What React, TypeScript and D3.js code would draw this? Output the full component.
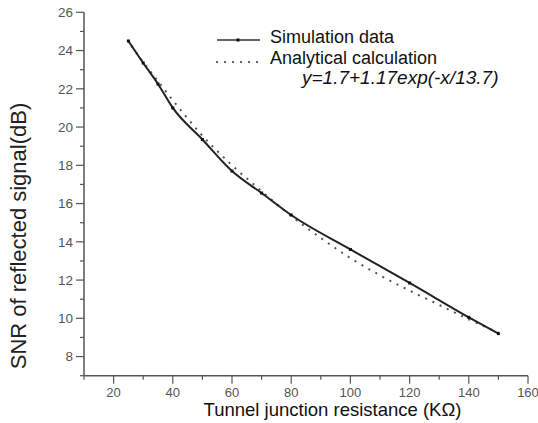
import React from "react";
import * as d3 from "d3";

const simX = [25, 30, 35, 40, 50, 60, 70, 80, 100, 120, 140, 150];
const simY = [24.5, 23.35, 22.25, 21.0, 19.35, 17.7, 16.55, 15.4, 13.6, 11.85, 10.05, 9.2];

const anaX = [26, 30, 35, 40, 45, 50, 55, 60, 70, 80, 90, 100, 110, 120, 130, 140, 150];
const anaY = [24.25, 23.4, 22.4, 21.4, 20.45, 19.55, 18.75, 18.0, 16.65, 15.35, 14.2, 13.15, 12.25, 11.45, 10.7, 9.95, 9.25];

const xMajorTicks = [20, 40, 60, 80, 100, 120, 140, 160];
const xMinorTicks = [10, 30, 50, 70, 90, 110, 130, 150];
const yMajorTicks = [8, 10, 12, 14, 16, 18, 20, 22, 24, 26];
const yMinorTicks = [7, 9, 11, 13, 15, 17, 19, 21, 23, 25];

const xTitle = "Tunnel junction resistance (K\u03A9)";
const yTitle = "SNR of reflected signal(dB)";
const legendLabels = ["Simulation data", "Analytical calculation"];
const formula = "y=1.7+1.17exp(-x/13.7)";

export default function App() {
  const W = 538, H = 423;
  const x = d3.scaleLinear().domain([10, 160]).range([84, 528]);
  const y = d3.scaleLinear().domain([7, 26]).range([375.7, 12.3]);
  const axisColor = "#555";
  const font = "'Liberation Sans', Arial, sans-serif";

  const simPts: [number, number][] = simX.map((v, i) => [x(v), y(simY[i])]);
  const anaPts: [number, number][] = anaX.map((v, i) => [x(v), y(anaY[i])]);
  const simPath = d3.line().curve(d3.curveMonotoneX)(simPts) || "";
  const anaPath = d3.line().curve(d3.curveMonotoneX)(anaPts) || "";

  const x0 = x(10), y0 = y(7);

  return (
    <svg width={W} height={H} style={{ position: "absolute", left: 0, top: 0, background: "#fff" }} fontFamily={font}>
      {/* axes */}
      <line x1={x0} y1={y(26)} x2={x0} y2={y0} stroke={axisColor} strokeWidth={1.5} />
      <line x1={x0} y1={y0} x2={x(160)} y2={y0} stroke={axisColor} strokeWidth={1.5} />
      {yMajorTicks.map((t) => (
        <g key={"ym" + t}>
          <line x1={x0 - 8} x2={x0} y1={y(t)} y2={y(t)} stroke={axisColor} strokeWidth={1.2} />
          <text x={x0 - 11} y={y(t)} dy="0.36em" textAnchor="end" fontSize={13.5} fill="#555">{t}</text>
        </g>
      ))}
      {yMinorTicks.map((t) => (
        <line key={"yn" + t} x1={x0 - 4} x2={x0} y1={y(t)} y2={y(t)} stroke={axisColor} strokeWidth={1.2} />
      ))}
      {xMajorTicks.map((t) => (
        <g key={"xm" + t}>
          <line x1={x(t)} x2={x(t)} y1={y0} y2={y0 + 8} stroke={axisColor} strokeWidth={1.2} />
          <text x={x(t)} y={397} textAnchor="middle" fontSize={13} fill="#555">{t}</text>
        </g>
      ))}
      {xMinorTicks.map((t) => (
        <line key={"xn" + t} x1={x(t)} x2={x(t)} y1={y0} y2={y0 + 4} stroke={axisColor} strokeWidth={1.2} />
      ))}

      {/* titles */}
      <text x={332.5} y={416} textAnchor="middle" fontSize={18.5} fill="#111">{xTitle}</text>
      <text transform="translate(26,236) rotate(-90)" textAnchor="middle" fontSize={22} fill="#222">{yTitle}</text>

      {/* data */}
      <path d={anaPath} fill="none" stroke="#555" strokeWidth={2} strokeDasharray="2,6" strokeLinecap="butt" />
      <path d={simPath} fill="none" stroke="#222" strokeWidth={2} />
      {simPts.map((p, i) => (
        <rect key={"m" + i} x={p[0] - 1.5} y={p[1] - 1.5} width={3} height={3} fill="#111" />
      ))}

      {/* legend */}
      <line x1={217} x2={260} y1={40} y2={40} stroke="#666" strokeWidth={2} />
      <rect x={236.5} y={38.5} width={3} height={3} fill="#111" />
      <text x={270} y={42.5} fontSize={18} fill="#111">{legendLabels[0]}</text>
      <line x1={216} x2={260} y1={62} y2={62} stroke="#666" strokeWidth={2} strokeDasharray="2,6" />
      <text x={270} y={63.5} fontSize={18} fill="#111">{legendLabels[1]}</text>
      <text x={302} y={84} fontSize={19} fontStyle="italic" fill="#111">{formula}</text>
    </svg>
  );
}
